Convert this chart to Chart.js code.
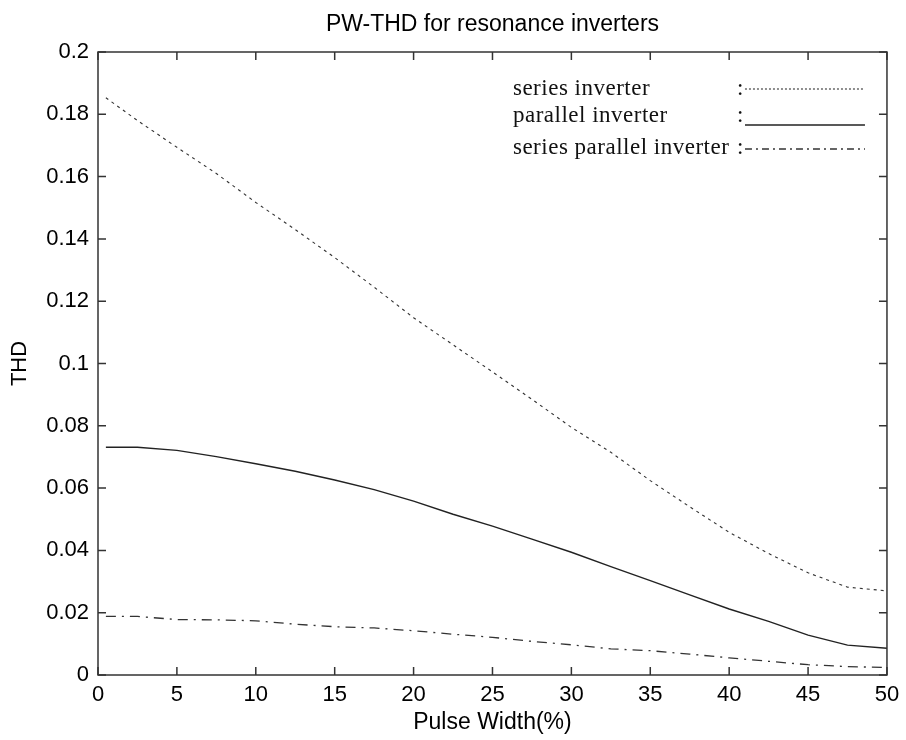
<!DOCTYPE html>
<html>
<head>
<meta charset="utf-8">
<script src="https://cdn.jsdelivr.net/npm/chart.js@4/dist/chart.umd.min.js"></script>
<style>
  html, body { margin: 0; padding: 0; background: #fff; }
  #wrap { width: 906px; height: 740px; }
</style>
</head>
<body>
<div id="wrap"><canvas id="c" width="906" height="740"></canvas></div>
<script>
// ---- data ----
const chartTitle = 'PW-THD for resonance inverters';
const xAxisTitle = 'Pulse Width(%)';
const yAxisTitle = 'THD';
const seriesNames = ['series inverter', 'parallel inverter', 'series parallel inverter'];

const pulseWidth = [0.5, 2.5, 5, 7.5, 10, 12.5, 15, 17.5, 20, 22.5, 25, 27.5, 30, 32.5, 35, 37.5, 40, 42.5, 45, 47.5, 50];
const seriesTHD = [0.1853, 0.1780, 0.1694, 0.1610, 0.1517, 0.1430, 0.1340, 0.1245, 0.1147, 0.1060, 0.0973, 0.0885, 0.0795, 0.0715, 0.0624, 0.0540, 0.0458, 0.0390, 0.0328, 0.0282, 0.0270];
const parallelTHD = [0.0731, 0.0731, 0.0721, 0.0701, 0.0678, 0.0654, 0.0626, 0.0595, 0.0558, 0.0516, 0.0478, 0.0436, 0.0394, 0.0348, 0.0303, 0.0257, 0.0212, 0.0172, 0.0128, 0.0096, 0.0086];
const seriesParallelTHD = [0.0188, 0.0188, 0.0178, 0.0177, 0.0174, 0.0163, 0.0155, 0.0151, 0.0142, 0.0131, 0.0121, 0.0108, 0.0097, 0.0084, 0.0078, 0.0067, 0.0055, 0.0044, 0.0033, 0.0027, 0.0024];

const xTickValues = [0, 5, 10, 15, 20, 25, 30, 35, 40, 45, 50];
const xTickLabels = ['0', '5', '10', '15', '20', '25', '30', '35', '40', '45', '50'];
const yTickValues = [0, 0.02, 0.04, 0.06, 0.08, 0.1, 0.12, 0.14, 0.16, 0.18, 0.2];
const yTickLabels = ['0', '0.02', '0.04', '0.06', '0.08', '0.1', '0.12', '0.14', '0.16', '0.18', '0.2'];

// ---- styles ----
const SANS = 'Liberation Sans, Arial, sans-serif';
const SERIF = 'Liberation Serif, Times New Roman, serif';
const styles = [
  { color: '#333', width: 1.1, dash: [3, 4], legendDash: [2, 2] },
  { color: '#222', width: 1.4, dash: [], legendDash: [] },
  { color: '#333', width: 1.3, dash: [10, 6, 2, 6], legendDash: [7, 4, 2, 4] }
];

function toPoints(ys) { return pulseWidth.map((x, i) => ({ x: x, y: ys[i] })); }
const allSeries = [seriesTHD, parallelTHD, seriesParallelTHD];

const datasets = allSeries.map((ys, i) => ({
  label: seriesNames[i],
  data: toPoints(ys),
  borderColor: styles[i].color,
  borderWidth: styles[i].width,
  borderDash: styles[i].dash,
  pointRadius: 0,
  tension: 0,
  fill: false
}));

// frame, inward ticks and the text legend
const matlabFrame = {
  id: 'matlabFrame',
  afterDatasetsDraw(chart) {
    const { ctx, chartArea: a, scales } = chart;
    ctx.save();
    ctx.strokeStyle = '#333';
    ctx.lineWidth = 1.5;
    ctx.setLineDash([]);
    ctx.strokeRect(a.left, a.top, a.right - a.left, a.bottom - a.top);
    const tl = 8;
    ctx.beginPath();
    scales.x.ticks.forEach(t => {
      const px = scales.x.getPixelForValue(t.value);
      ctx.moveTo(px, a.bottom); ctx.lineTo(px, a.bottom - tl);
      ctx.moveTo(px, a.top); ctx.lineTo(px, a.top + tl);
    });
    scales.y.ticks.forEach(t => {
      const py = scales.y.getPixelForValue(t.value);
      ctx.moveTo(a.left, py); ctx.lineTo(a.left + tl, py);
      ctx.moveTo(a.right, py); ctx.lineTo(a.right - tl, py);
    });
    ctx.stroke();

    // legend (text + colon + line sample)
    const rows = [
      { base: 43, line: 37 },
      { base: 70, line: 73 },
      { base: 102, line: 97 }
    ];
    ctx.font = '23px ' + SERIF;
    if ('letterSpacing' in ctx) ctx.letterSpacing = '0.5px';
    ctx.fillStyle = '#111';
    ctx.textBaseline = 'alphabetic';
    ctx.textAlign = 'left';
    const textX = a.right - 374;
    const colonX = a.right - 150;
    const lineX0 = a.right - 142, lineX1 = a.right - 22;
    chart.data.datasets.forEach((ds, i) => {
      const r = rows[i];
      ctx.fillText(ds.label, textX, a.top + r.base);
      const w = ctx.measureText(ds.label).width;
      ctx.fillText(':', Math.max(colonX, textX + w), a.top + r.base);
      ctx.beginPath();
      ctx.strokeStyle = styles[i].color;
      ctx.lineWidth = styles[i].width;
      ctx.setLineDash(styles[i].legendDash);
      ctx.moveTo(lineX0, a.top + r.line);
      ctx.lineTo(lineX1, a.top + r.line);
      ctx.stroke();
    });
    ctx.restore();
  }
};

new Chart(document.getElementById('c'), {
  type: 'line',
  data: { datasets: datasets },
  plugins: [matlabFrame],
  options: {
    responsive: false,
    devicePixelRatio: 1,
    animation: false,
    layout: { padding: { left: 0, right: 17, top: 0, bottom: 0 } },
    plugins: {
      legend: { display: false },
      tooltip: { enabled: false },
      title: {
        display: true,
        text: chartTitle,
        fullSize: false,
        color: '#000',
        font: { family: SANS, size: 23, weight: 'normal' },
        padding: { top: 11.2, bottom: 13.2 }
      }
    },
    scales: {
      x: {
        type: 'linear',
        min: 0, max: 50,
        afterBuildTicks: s => { s.ticks = xTickValues.map(v => ({ value: v })); },
        afterFit: s => { s.height = 65; },
        grid: { display: false, drawTicks: false },
        border: { display: false },
        ticks: {
          color: '#000', padding: 6.8, maxRotation: 0, autoSkip: false,
          font: { family: SANS, size: 22 },
          callback: (v, i) => xTickLabels[i]
        },
        title: {
          display: true, text: xAxisTitle, color: '#000',
          font: { family: SANS, size: 23 },
          padding: { top: 0, bottom: 3.2 }
        }
      },
      y: {
        type: 'linear',
        min: 0, max: 0.2,
        afterBuildTicks: s => { s.ticks = yTickValues.map(v => ({ value: v })); },
        afterFit: s => { s.width = 98; },
        grid: { display: false, drawTicks: false },
        border: { display: false },
        ticks: {
          color: '#000', padding: 9, autoSkip: false,
          font: { family: SANS, size: 22 },
          callback: (v, i) => yTickLabels[i]
        },
        title: {
          display: true, text: yAxisTitle, color: '#000',
          font: { family: SANS, size: 22 },
          padding: { top: 6.8, bottom: 0 }
        }
      }
    }
  }
});
</script>
</body>
</html>
